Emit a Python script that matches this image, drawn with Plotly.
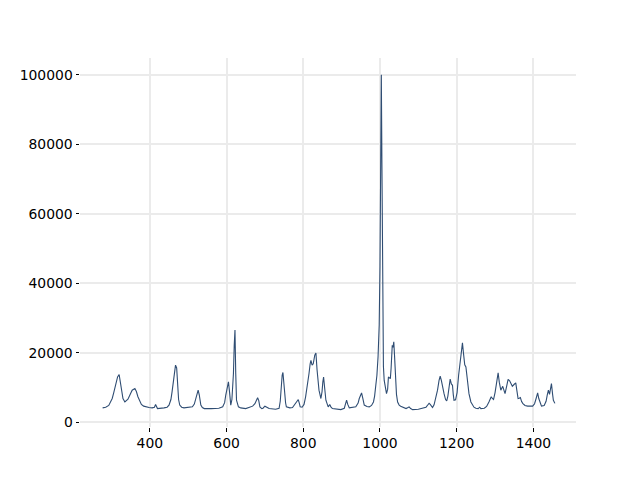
import plotly.graph_objects as go

wavenumber = [
    277, 285, 293, 302, 306, 311, 316, 320, 323, 326, 330, 335, 343, 349, 354, 361, 365, 369, 374, 378,
    384, 389, 398, 406, 412, 415, 418, 420, 437, 445, 450, 455, 458, 463, 467, 470, 472, 475, 478, 483,
    489, 511, 516, 520, 523, 526, 529, 533, 537, 542, 560, 580, 590, 595, 598, 602, 605, 608, 611, 614,
    616, 618, 620, 622, 624, 626, 631, 637, 650, 668, 674, 678, 681, 684, 687, 692, 695, 700, 704, 711,
    728, 737, 740, 742, 745, 747, 749, 751, 754, 756, 765, 772, 781, 784, 787, 790, 792, 797, 802, 806,
    811, 815, 818, 820, 823, 826, 830, 833, 836, 839, 841, 846, 849, 851, 853, 856, 859, 865, 869, 872,
    876, 898, 907, 910, 913, 916, 920, 937, 943, 946, 949, 952, 955, 959, 966, 972, 978, 983, 986, 989,
    992, 995, 998, 1000, 1002, 1003.5, 1005, 1007, 1009, 1011, 1013, 1015, 1017, 1020, 1022, 1024, 1027,
    1029, 1032, 1034, 1036, 1038, 1041, 1043, 1046, 1050, 1054, 1060, 1068, 1073, 1076, 1080, 1085, 1100,
    1107, 1120, 1125, 1128, 1131, 1137, 1141, 1146, 1150, 1154, 1157, 1160, 1163, 1167, 1171, 1174, 1177,
    1180, 1183, 1186, 1189, 1191, 1193, 1197, 1201, 1205, 1209, 1212, 1215, 1218, 1221, 1224, 1228, 1232,
    1237, 1245, 1250, 1256, 1260, 1263, 1272, 1278, 1284, 1290, 1293, 1296, 1300, 1304, 1308, 1311, 1315,
    1320, 1326, 1330, 1334, 1338, 1341, 1345, 1350, 1354, 1357, 1360, 1363, 1366, 1369, 1372, 1378, 1385,
    1398, 1403, 1407, 1411, 1414, 1418, 1421, 1428, 1433, 1436, 1439, 1442, 1445, 1447, 1450, 1452, 1456,
]

intensity = [
    4100, 4300, 4800, 6800, 8500, 10600, 13000, 13700, 11800, 8700, 6800, 5800, 6600, 8000, 9200, 9700, 8800, 7300, 6000, 5100,
    4600, 4400, 4200, 4100, 4300, 5100, 4400, 3900, 4100, 4300, 4900, 6500, 8700, 12500, 16400, 15600, 9700, 6500, 4900, 4300,
    4100, 4400, 5200, 6800, 8300, 9200, 7800, 4900, 4200, 3900, 3900, 4000, 4400, 5600, 7800, 10200, 11600, 8500, 4900, 6500,
    9000, 14000, 22000, 26500, 14000, 6300, 4400, 4100, 3900, 4600, 5300, 6200, 7000, 6200, 4400, 3900, 4000, 4600, 4300, 3900,
    3700, 4000, 6000, 9700, 13500, 14300, 11000, 7800, 5500, 4400, 4100, 4200, 5400, 6000, 6500, 5300, 4400, 4300, 5100, 7200,
    10600, 14000, 16800, 17800, 16400, 16800, 19300, 19900, 15000, 11000, 9200, 6800, 8800, 11500, 13000, 9600, 6300, 4400, 5100, 4400,
    3900, 3600, 4000, 5200, 6300, 5100, 4100, 4400, 5500, 6800, 8000, 8400, 7000, 4900, 4500, 4400, 4800, 5800, 7500, 10100,
    13500, 18800, 28000, 45000, 80000, 100000, 75000, 35000, 16000, 12000, 10500, 8800, 8200, 9500, 13000, 12800, 12500,
    15500, 22100, 21500, 23100, 19000, 12100, 8000, 5800, 4900, 4600, 4200, 3900, 4200, 4400, 3900, 3600, 3700,
    3900, 4300, 5000, 5400, 5100, 4200, 5000, 7300, 9200, 12000, 13200, 12000, 10100, 8200, 6500, 6100, 7500,
    10000, 12400, 11000, 10600, 8000, 6300, 6400, 8500, 13500, 18000, 21500, 22800, 19500, 16500, 15900, 12000, 8200,
    5800, 4300, 4000, 3900, 4300, 3900, 4000, 4500, 5800, 7300, 6800, 6500, 8500, 12000, 14200, 11500, 9200,
    10300, 8200, 10200, 12300, 11900, 11000, 10300, 10900, 11300, 9000, 6800, 6900, 7100, 6000, 5400, 4800, 4600,
    4600, 5300, 6800, 8400, 6800, 5200, 4600, 4800, 6000, 7800, 9200, 8000, 9500, 11100, 8000, 6300, 5400,
]

x_ticks = [400, 600, 800, 1000, 1200, 1400]
y_ticks = [0, 20000, 40000, 60000, 80000, 100000]

fig = go.Figure(
    go.Scatter(
        x=wavenumber,
        y=intensity,
        mode="lines",
        line=dict(color="#2f4d73", width=1.1),
        hoverinfo="skip",
    )
)

axis_common = dict(
    showline=False,
    zeroline=False,
    showgrid=True,
    gridcolor="#ebebeb",
    gridwidth=1.5,
    ticks="outside",
    ticklen=3.5,
    tickwidth=1,
    tickcolor="#000000",
    automargin=False,
    tickfont=dict(family="DejaVu Sans", size=13.9, color="#000000"),
)

fig.update_layout(
    width=640,
    height=480,
    margin=dict(l=72, r=72, t=50, b=61),
    paper_bgcolor="white",
    plot_bgcolor="white",
    showlegend=False,
    xaxis=dict(range=[218, 1511], tickvals=x_ticks, ticktext=[str(v) for v in x_ticks], **axis_common),
    yaxis=dict(range=[-1400, 104800], tickvals=y_ticks, ticktext=[str(v) for v in y_ticks], **axis_common),
)

fig.write_html("out.html")
